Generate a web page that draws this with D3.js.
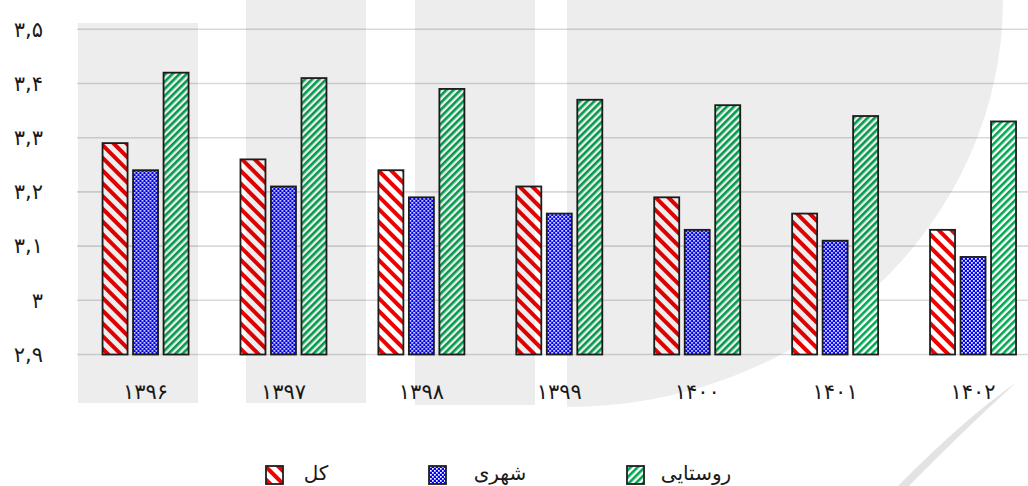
<!DOCTYPE html>
<html>
<head>
<meta charset="utf-8">
<script src="https://cdn.jsdelivr.net/npm/d3@7/dist/d3.min.js"></script>
<style>
  html, body { margin: 0; padding: 0; background: #fff; }
  svg { display: block; }
  text { font-family: "DejaVu Sans", "Noto Sans", sans-serif; fill: #1a1a1a; }
</style>
</head>
<body>
<script>
// ---- data ----
const categories = ["۱۳۹۶", "۱۳۹۷", "۱۳۹۸", "۱۳۹۹", "۱۴۰۰", "۱۴۰۱", "۱۴۰۲"];
const seriesNames = ["کل", "شهری", "روستایی"];
const totalValues = [3.29, 3.26, 3.24, 3.21, 3.19, 3.16, 3.13];
const urbanValues = [3.24, 3.21, 3.19, 3.16, 3.13, 3.11, 3.08];
const ruralValues = [3.42, 3.41, 3.39, 3.37, 3.36, 3.34, 3.33];
const yTickValues = [2.9, 3.0, 3.1, 3.2, 3.3, 3.4, 3.5];
const yTickLabels = ["۲,۹", "۳", "۳,۱", "۳,۲", "۳,۳", "۳,۴", "۳,۵"];

const seriesValues = [totalValues, urbanValues, ruralValues];
const patternIds = ["pat-red", "pat-blue", "pat-green"];

const W = 1028, H = 486;
const svg = d3.select("body").append("svg").attr("width", W).attr("height", H);

// ---- patterns ----
const defs = svg.append("defs");
// red downward diagonal "\"
const pr = defs.append("pattern").attr("id", "pat-red")
  .attr("patternUnits", "userSpaceOnUse").attr("width", 9).attr("height", 9)
  .attr("patternTransform", "rotate(-45)");
pr.append("rect").attr("width", 9).attr("height", 9).attr("fill", "#fff");
pr.append("rect").attr("width", 4).attr("height", 9).attr("fill", "#ee0000");
// blue small checker
const pb = defs.append("pattern").attr("id", "pat-blue")
  .attr("patternUnits", "userSpaceOnUse").attr("width", 4).attr("height", 4);
pb.append("rect").attr("width", 4).attr("height", 4).attr("fill", "#0000ff");
pb.append("rect").attr("x", 0).attr("y", 0).attr("width", 1.7).attr("height", 1.7).attr("fill", "#fff");
pb.append("rect").attr("x", 2).attr("y", 2).attr("width", 1.7).attr("height", 1.7).attr("fill", "#fff");
// green upward diagonal "/"
const pg = defs.append("pattern").attr("id", "pat-green")
  .attr("patternUnits", "userSpaceOnUse").attr("width", 5).attr("height", 5)
  .attr("patternTransform", "rotate(45)");
pg.append("rect").attr("width", 5).attr("height", 5).attr("fill", "#fff");
pg.append("rect").attr("width", 2.6).attr("height", 5).attr("fill", "#00a650");

// ---- scales ----
const y = d3.scaleLinear().domain([2.9, 3.5]).range([354.5, 29.3]);
const x0 = d3.scaleBand().domain(categories).range([76.6, 1042]).paddingInner(0).paddingOuter(0);
const x1 = d3.scaleBand().domain(seriesNames).range([-45.75, 45.75]).paddingInner(0.18).paddingOuter(0.09);

// ---- gridlines ----
svg.append("g").selectAll("line").data(yTickValues).join("line")
  .attr("x1", 77).attr("x2", W)
  .attr("y1", d => y(d)).attr("y2", d => y(d))
  .attr("stroke", "#d9d9d9").attr("stroke-width", 1.6);

// ---- y axis labels ----
const yAxis = d3.axisLeft(y).tickValues(yTickValues)
  .tickFormat((d, i) => yTickLabels[i]).tickSize(0).tickPadding(0);
const gy = svg.append("g").attr("transform", "translate(43,0)").call(yAxis);
gy.select(".domain").remove();
gy.selectAll("text").style("font-size", "21px").attr("fill", "#1a1a1a")
  .attr("font-family", "DejaVu Sans");

// ---- x axis labels ----
const xAxis = d3.axisBottom(x0).tickSize(0).tickPadding(0);
const gx = svg.append("g").attr("transform", "translate(0,384)").call(xAxis);
gx.select(".domain").remove();
gx.selectAll("text").style("font-size", "21px").attr("fill", "#1a1a1a")
  .attr("font-family", "DejaVu Sans");

// ---- bars ----
const groups = svg.append("g").selectAll("g").data(categories).join("g")
  .attr("transform", d => `translate(${x0(d) + x0.bandwidth() / 2},0)`);
groups.selectAll("rect")
  .data((c, ci) => seriesNames.map((s, si) => ({ s, si, v: seriesValues[si][ci] })))
  .join("rect")
  .attr("x", d => x1(d.s))
  .attr("width", x1.bandwidth())
  .attr("y", d => y(d.v))
  .attr("height", d => y(2.9) - y(d.v))
  .attr("fill", d => `url(#${patternIds[d.si]})`)
  .attr("stroke", "#1e1e1e").attr("stroke-width", 1.8);

// ---- legend ----
const legendBoxX = [266, 429, 627];
const legendTextX = [316, 500, 696];
const lg = svg.append("g");
seriesNames.forEach((s, i) => {
  lg.append("rect").attr("x", legendBoxX[i]).attr("y", 466).attr("width", 17).attr("height", 18)
    .attr("fill", `url(#${patternIds[i]})`).attr("stroke", "#1e1e1e").attr("stroke-width", 1.8);
  lg.append("text").attr("x", legendTextX[i]).attr("y", 480).attr("text-anchor", "middle")
    .style("font-size", "20px").text(s);
});

// ---- watermark (semi-transparent overlay) ----
const wm = svg.append("g").attr("fill", "#000").attr("fill-opacity", 0.072);
wm.append("rect").attr("x", 78).attr("y", 23).attr("width", 120).attr("height", 380);
wm.append("rect").attr("x", 246).attr("y", 0).attr("width", 120).attr("height", 403);
wm.append("rect").attr("x", 415).attr("y", 0).attr("width", 120).attr("height", 405);
wm.append("path").attr("d", "M567,0 L1003,0 A436,407 0 0,1 567,407 Z");
wm.append("path").attr("d", "M1017,382 Q965,418 898,486 L909,486 Q968,426 1017,382 Z")
  .attr("fill-opacity", 0.11);
</script>
</body>
</html>
